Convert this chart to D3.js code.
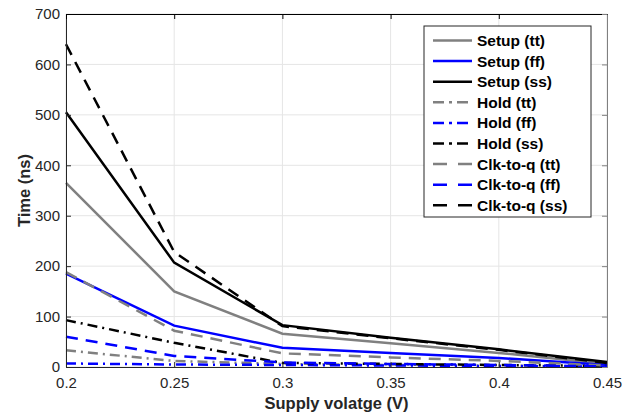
<!DOCTYPE html>
<html>
<head>
<meta charset="utf-8">
<script src="https://cdn.jsdelivr.net/npm/d3@7"></script>
<style>
  body { margin: 0; background: #fff; }
  svg { font-family: "Liberation Sans", Arial, sans-serif; }
</style>
</head>
<body>
<div id="chart"></div>
<script>
// Chart data
var voltages = [0.2, 0.25, 0.3, 0.35, 0.4, 0.45];
var setupTT = [365, 150, 66, 47, 28, 6];
var setupFF = [185, 82, 38, 28, 18, 4];
var setupSS = [505, 207, 83, 58, 35, 10];
var holdTT = [33, 12, 6, 4, 3, 1];
var holdFF = [7, 5, 4, 3, 2, 1];
var holdSS = [93, 48, 8, 6, 4, 2];
var clkTT = [188, 72, 27, 19, 12, 3];
var clkFF = [60, 22, 9, 6, 4, 1];
var clkSS = [640, 228, 81, 57, 34, 8];

var xTicks = [0.2, 0.25, 0.3, 0.35, 0.4, 0.45];
var yTicks = [0, 100, 200, 300, 400, 500, 600, 700];

var seriesNames = ["Setup (tt)", "Setup (ff)", "Setup (ss)",
                   "Hold (tt)", "Hold (ff)", "Hold (ss)",
                   "Clk-to-q (tt)", "Clk-to-q (ff)", "Clk-to-q (ss)"];
var seriesValues = [setupTT, setupFF, setupSS, holdTT, holdFF, holdSS, clkTT, clkFF, clkSS];

// styles per corner / per kind
var cornerColor = {tt: "#808080", ff: "#0000ff", ss: "#000000"};
var kindDash = {Setup: null, Hold: "10,5,2,5", "Clk-to-q": "12,8"};

// Size and margins
var margin = {top: 14, right: 26, bottom: 45, left: 66},
    width = 633 - margin.left - margin.right,
    height = 412 - margin.top - margin.bottom;

var svg = d3.select("#chart")
  .append("svg")
    .attr("width", 633)
    .attr("height", 412)
  .append("g")
    .attr("transform", "translate(" + margin.left + "," + margin.top + ")");

var x = d3.scaleLinear().domain([0.2, 0.45]).range([0, width]);
var y = d3.scaleLinear().domain([0, 700]).range([height, 0]);

// grid
svg.append("g")
  .selectAll("line.gx")
  .data(xTicks)
  .enter().append("line")
    .attr("x1", d => x(d)).attr("x2", d => x(d))
    .attr("y1", 0).attr("y2", height)
    .attr("stroke", "#e5e5e5").attr("stroke-width", 1);
svg.append("g")
  .selectAll("line.gy")
  .data(yTicks)
  .enter().append("line")
    .attr("x1", 0).attr("x2", width)
    .attr("y1", d => y(d)).attr("y2", d => y(d))
    .attr("stroke", "#e5e5e5").attr("stroke-width", 1);

// lines
var line = d3.line()
  .x(function(d, i) { return x(voltages[i]); })
  .y(function(d) { return y(d); });

seriesValues.forEach(function(vals, i) {
  var name = seriesNames[i];
  var kind = name.split(" ")[0];
  var corner = name.match(/\((\w+)\)/)[1];
  svg.append("path")
    .datum(vals)
    .attr("fill", "none")
    .attr("stroke", cornerColor[corner])
    .attr("stroke-width", 2.5)
    .attr("stroke-dasharray", kindDash[kind])
    .attr("d", line);
});

// axes (box style, ticks pointing in)
var axisColor = "#262626";
var xAxis = svg.append("g")
  .attr("transform", "translate(0," + height + ")")
  .call(d3.axisBottom(x).tickValues(xTicks).tickSizeInner(-5).tickSizeOuter(0)
        .tickFormat(d3.format("~g")).tickPadding(10));
var yAxis = svg.append("g")
  .call(d3.axisLeft(y).tickValues(yTicks).tickSizeInner(-5).tickSizeOuter(0).tickPadding(6));
var xTop = svg.append("g")
  .call(d3.axisTop(x).tickValues(xTicks).tickSizeInner(-5).tickSizeOuter(0).tickFormat(""));
var yRight = svg.append("g")
  .attr("transform", "translate(" + width + ",0)")
  .call(d3.axisRight(y).tickValues(yTicks).tickSizeInner(-5).tickSizeOuter(0).tickFormat(""));

[xAxis, yAxis].forEach(function(a) {
  a.selectAll("path, line").attr("stroke", axisColor);
  a.selectAll("text").attr("fill", axisColor).style("font-size", "15px");
});
xTop.selectAll("path, line").attr("stroke", "#000");
yRight.selectAll("path, line").attr("stroke", "#808080");

// axis labels
svg.append("text")
  .attr("x", width / 2)
  .attr("y", height + 42)
  .attr("text-anchor", "middle")
  .attr("fill", axisColor)
  .style("font-size", "16.5px")
  .style("font-weight", "bold")
  .text("Supply volatge (V)");

svg.append("text")
  .attr("transform", "translate(" + (-41.5) + "," + (height / 2) + ") rotate(-90)")
  .attr("text-anchor", "middle")
  .attr("dy", "0.35em")
  .attr("fill", axisColor)
  .style("font-size", "16.5px")
  .style("font-weight", "bold")
  .text("Time (ns)");

// legend
var legend = svg.append("g")
  .attr("transform", "translate(" + (424 - margin.left) + "," + (26 - margin.top) + ")");
legend.append("rect")
  .attr("width", 167).attr("height", 191)
  .attr("fill", "#fff").attr("stroke", axisColor).attr("stroke-width", 1);

var rows = legend.selectAll("g.row")
  .data(seriesNames)
  .enter().append("g")
    .attr("transform", function(d, i) { return "translate(0," + (14.5 + i * 20.6) + ")"; });

rows.append("line")
  .attr("x1", 9).attr("x2", 48)
  .attr("stroke", function(d) { return cornerColor[d.match(/\((\w+)\)/)[1]]; })
  .attr("stroke-width", 2.5)
  .attr("stroke-dasharray", function(d) {
    var k = d.split(" ")[0];
    if (k === "Hold") return "11,5,3,5";
    if (k === "Clk-to-q") return "14,11";
    return null;
  });

rows.append("text")
  .attr("x", 53)
  .attr("dy", "0.35em")
  .attr("fill", "#000")
  .style("font-size", "15.5px")
  .style("font-weight", "bold")
  .text(function(d) { return d; });
</script>
</body>
</html>
